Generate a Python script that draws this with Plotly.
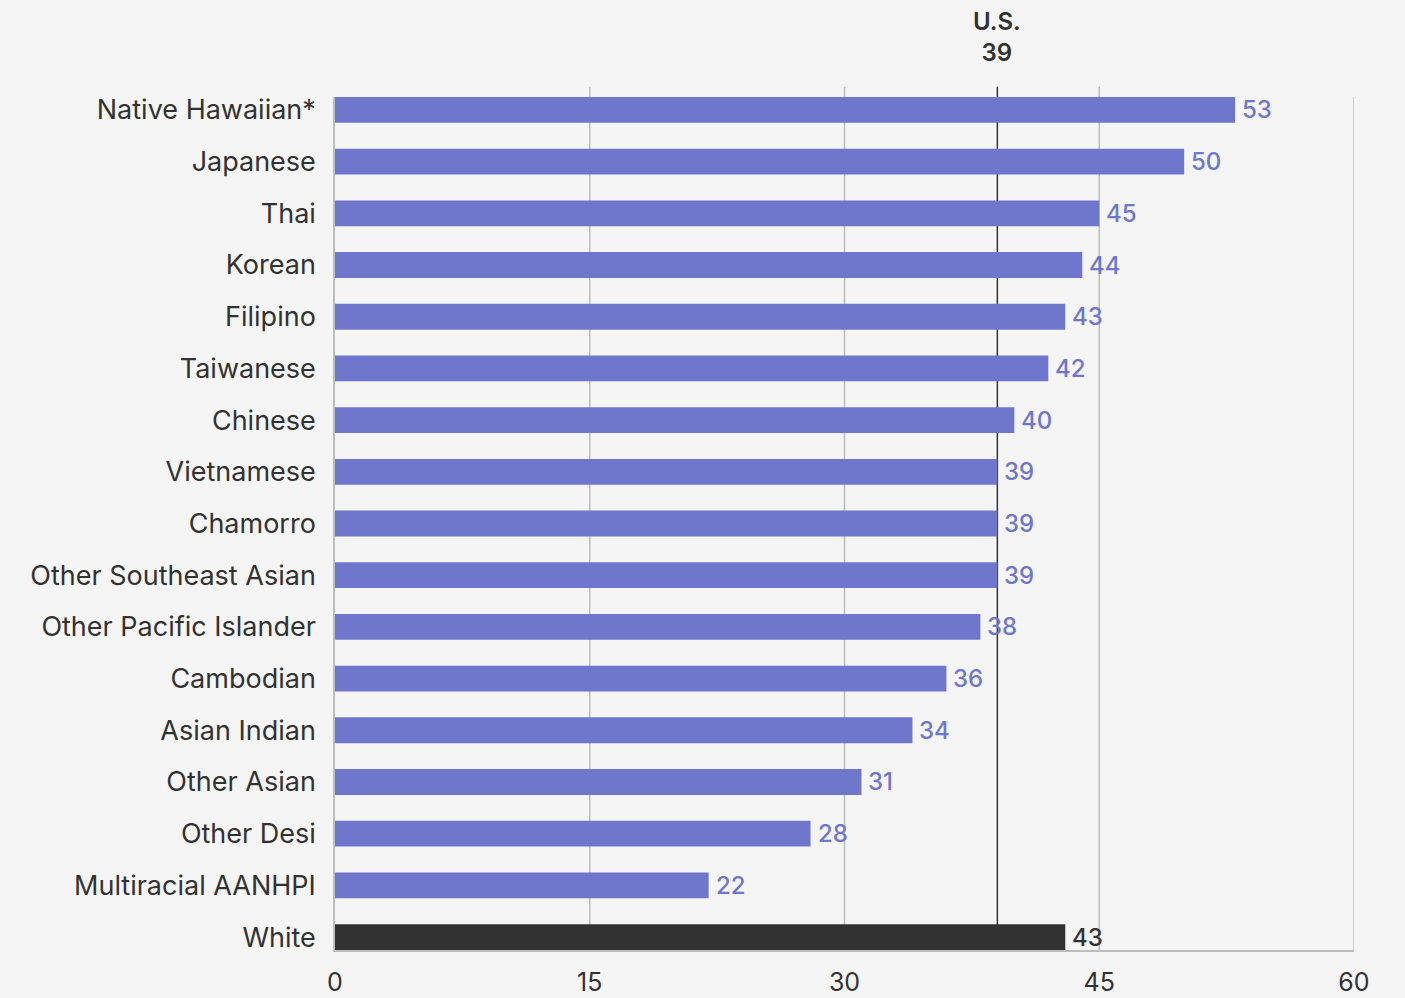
import plotly.graph_objects as go

# Median age by group (years)
groups = [
    "Native Hawaiian*", "Japanese", "Thai", "Korean", "Filipino", "Taiwanese",
    "Chinese", "Vietnamese", "Chamorro", "Other Southeast Asian",
    "Other Pacific Islander", "Cambodian", "Asian Indian", "Other Asian",
    "Other Desi", "Multiracial AANHPI", "White",
]
median_age = [53, 50, 45, 44, 43, 42, 40, 39, 39, 39, 38, 36, 34, 31, 28, 22, 43]
us_median = 39
x_ticks = [0, 15, 30, 45, 60]

BAR = "#6e77cb"
DARK = "#323232"
GRID = "#bdbdbd"
BG = "#f5f5f5"
FONT = "Inter"

n = len(groups)
ypos = list(range(n - 1, -1, -1))  # first group at the top
colors = [DARK if g == "White" else BAR for g in groups]

fig = go.Figure()
fig.add_trace(go.Bar(
    x=median_age, y=ypos, orientation="h", width=0.5,
    marker=dict(color=colors, line=dict(width=0)),
    hoverinfo="skip",
))

# value labels just past the end of each bar
for v, y, c in zip(median_age, ypos, colors):
    fig.add_annotation(
        x=v, y=y, text=str(v), xanchor="left", yanchor="middle",
        xshift=5, showarrow=False,
        font=dict(family=FONT, size=24, color=c, weight=500),
    )

# vertical gridlines
for t in x_ticks[1:]:
    fig.add_shape(
        type="line", xref="x", yref="paper", x0=t, x1=t,
        y0=0, y1=1.0 if t == x_ticks[-1] else 1.012,
        line=dict(color=GRID, width=1.5), layer="below",
    )

# U.S. reference line
fig.add_shape(
    type="line", xref="x", yref="paper", x0=us_median, x1=us_median,
    y0=0, y1=1.012, line=dict(color=DARK, width=1.5), layer="below",
)
fig.add_annotation(
    x=us_median, xref="x", yref="paper", y=1.0117, yanchor="bottom",
    text=f"U.S.<br>{us_median}", showarrow=False, yshift=18,
    font=dict(family=FONT, size=24, color=DARK, weight=600),
    align="center",
)

fig.update_layout(
    width=1405, height=998,
    paper_bgcolor=BG, plot_bgcolor=BG,
    margin=dict(l=335, r=51, t=97, b=48),
    showlegend=False,
    font=dict(family=FONT, color=DARK),
    xaxis=dict(
        range=[0, 60], tickvals=x_ticks, ticktext=[str(t) for t in x_ticks],
        showgrid=False, zeroline=False, automargin=False,
        showline=True, linecolor=GRID, linewidth=1.5,
        ticks="outside", ticklen=9, tickcolor="rgba(0,0,0,0)",
        tickfont=dict(family=FONT, size=25, color=DARK),
    ),
    yaxis=dict(
        range=[-0.25, n - 0.75], tickvals=ypos, ticktext=groups,
        showgrid=False, zeroline=False, automargin=False,
        showline=True, linecolor=GRID, linewidth=1.5,
        ticks="outside", ticklen=12, tickcolor="rgba(0,0,0,0)",
        tickfont=dict(family=FONT, size=27, color=DARK),
    ),
)

fig.write_html("out.html")
